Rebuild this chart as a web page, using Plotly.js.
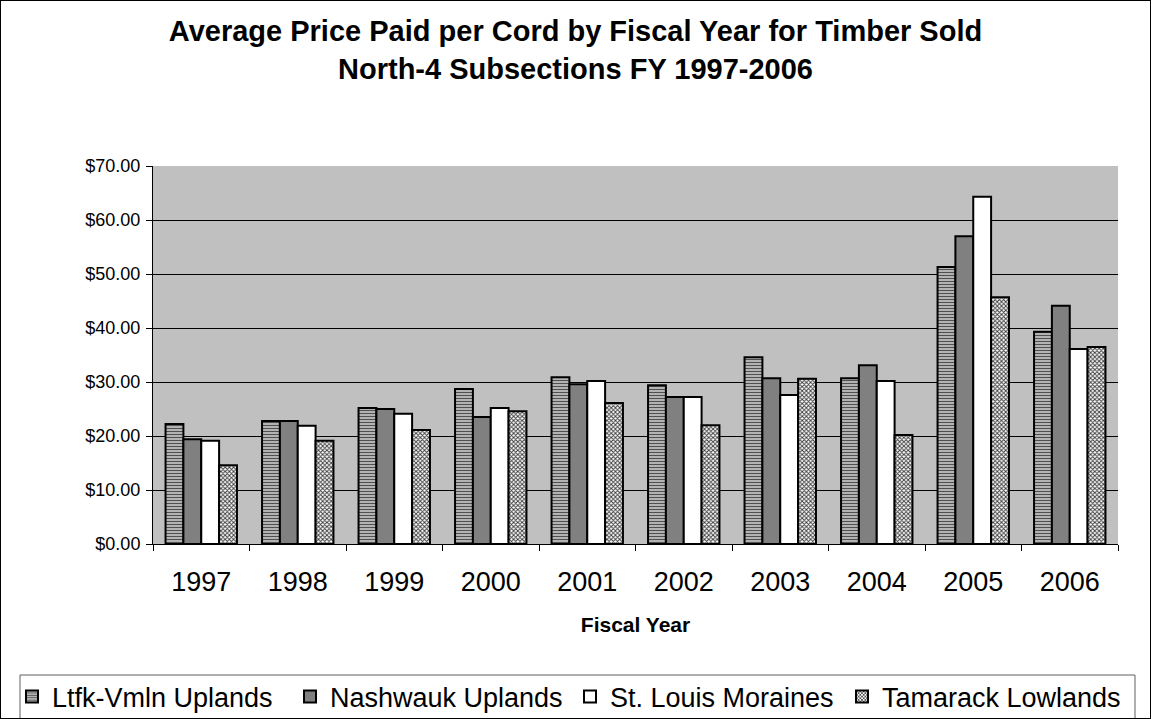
<!DOCTYPE html>
<html><head><meta charset="utf-8">
<script src="https://cdn.plot.ly/plotly-3.0.1.min.js"></script>
<style>body{margin:0;background:#fff}#c{width:1149px;height:717px;border:1px solid #000}</style>
</head><body><div id="c"></div>
<script>
var years = ['1997','1998','1999','2000','2001','2002','2003','2004','2005','2006'];
var ltfk = [22.2, 22.8, 25.2, 28.7, 30.9, 29.4, 34.6, 30.7, 51.3, 39.3];
var nash = [19.4, 22.8, 25.0, 23.5, 29.6, 27.2, 30.7, 33.1, 57.0, 44.1];
var stl  = [19.1, 21.9, 24.1, 25.2, 30.2, 27.2, 27.6, 30.2, 64.3, 36.1];
var tam  = [14.6, 19.1, 21.1, 24.6, 26.1, 22.0, 30.6, 20.2, 45.7, 36.5];
var names = ['Ltfk-Vmln Uplands','Nashwauk Uplands','St. Louis Moraines','Tamarack Lowlands'];
var line = {color:'#000', width:2};
var traces = [
 {type:'bar', name:names[0], legend:'legend', x:years, y:ltfk, marker:{color:'#c8c8c8', line:line, pattern:{shape:'-', fgcolor:'#505050', bgcolor:'#c8c8c8', size:3, solidity:0.45}}},
 {type:'bar', name:names[1], legend:'legend2', x:years, y:nash, marker:{color:'#808080', line:line}},
 {type:'bar', name:names[2], legend:'legend3', x:years, y:stl, marker:{color:'#ffffff', line:line}},
 {type:'bar', name:names[3], legend:'legend4', x:years, y:tam, marker:{color:'#a0a0a0', line:line, pattern:{shape:'x', fgcolor:'#404040', bgcolor:'#ffffff', size:3, solidity:0.55}}}
];
function leg(px){
  return {orientation:'h', xref:'container', yref:'container', x:(px-1-40)/1149, xanchor:'left', y:0.0293, yanchor:'middle',
          font:{size:27}, borderwidth:0, bgcolor:'rgba(0,0,0,0)', itemwidth:30};
}
var layout = {
 width:1149, height:717,
 margin:{l:152, r:32, t:165, b:174},
 paper_bgcolor:'#fff', plot_bgcolor:'#c0c0c0',
 font:{family:'Liberation Sans, Arial, sans-serif', color:'#000'},
 title:{text:'<b>Average Price Paid per Cord by Fiscal Year for Timber Sold<br>North-4 Subsections FY 1997-2006</b>', font:{size:29}, x:0.5, xanchor:'center', yref:'container', y:0.944, yanchor:'top'},
 barmode:'group', bargap:0.26, bargroupgap:0,
 xaxis:{type:'category', tickfont:{size:27}, ticks:'outside', tickson:'boundaries', ticklen:6, tickcolor:'#000', showline:true, linecolor:'#000', linewidth:1, ticklabelstandoff:14,
   title:{text:'<b>Fiscal Year</b>', font:{size:21}, standoff:20}},
 yaxis:{range:[0,70], dtick:10, tickformat:'$.2f', tickfont:{size:18}, ticks:'outside', ticklen:6, tickcolor:'#000', showline:true, linecolor:'#000', linewidth:1,
   gridcolor:'#000', gridwidth:1, zeroline:false, ticklabelstandoff:2},
 legend:leg(52), legend2:leg(330), legend3:leg(610), legend4:leg(882),
 shapes:[{type:'rect', xref:'paper', yref:'paper', x0:(20-1-152)/965, x1:(1135-1-152)/965, y0:-0.3466, y1:-0.48, line:{color:'#606060', width:1}, fillcolor:'rgba(0,0,0,0)', layer:'below'}],
 showlegend:true
};
Plotly.newPlot('c', traces, layout, {displayModeBar:false});
</script></body></html>
